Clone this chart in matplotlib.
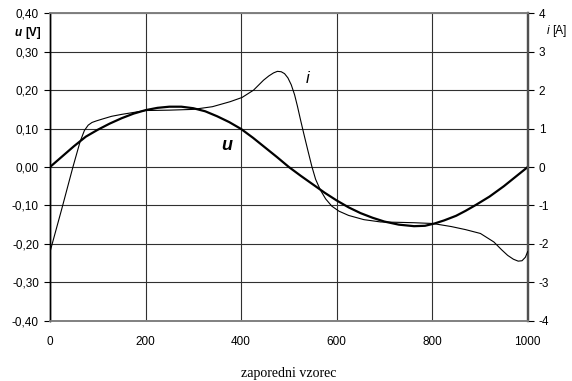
import numpy as np
import matplotlib.pyplot as plt
from matplotlib.ticker import FuncFormatter, MultipleLocator

plt.rcParams["font.family"] = ["Liberation Sans", "DejaVu Sans"]
plt.rcParams["axes.unicode_minus"] = False

# voltage u [V]
x_u = [0, 25, 50, 75, 100, 125, 150, 175, 200, 225, 250, 275, 300, 325, 350,
       375, 400, 425, 450, 475, 500, 525, 550, 575, 600, 625, 650, 675, 700,
       730, 762, 785, 805, 825, 850, 870, 891, 920, 950, 975, 1000]
u = [0, 0.027, 0.054, 0.079, 0.097, 0.113, 0.127, 0.139, 0.148, 0.154, 0.157,
     0.157, 0.153, 0.145, 0.132, 0.117, 0.099, 0.076, 0.051, 0.026, 0.0,
     -0.023, -0.045, -0.067, -0.087, -0.105, -0.120, -0.132, -0.142, -0.150,
     -0.154, -0.153, -0.147, -0.139, -0.127, -0.114, -0.099, -0.077, -0.050,
     -0.025, 0.0]

# current i [A]
x_i = [0, 24, 48, 63, 72, 80, 88, 97, 110, 129, 150, 200, 250, 300, 340, 377,
       402, 426, 447, 458, 468, 476, 484, 491, 498, 505, 512, 518, 524, 531,
       540, 548, 556, 566, 577, 590, 605, 625, 657, 692, 730, 762, 801, 840,
       870, 901, 929, 945, 958, 970, 980, 988, 995, 1000]
i = [-2.21, -1.12, 0.0, 0.66, 0.95, 1.09, 1.16, 1.2, 1.25, 1.32, 1.37, 1.47,
     1.48, 1.50, 1.57, 1.70, 1.81, 2.0, 2.26, 2.37, 2.45, 2.49, 2.48, 2.43,
     2.32, 2.14, 1.88, 1.58, 1.25, 0.88, 0.42, 0.02, -0.32, -0.6, -0.83,
     -1.02, -1.15, -1.26, -1.37, -1.43, -1.44, -1.45, -1.47, -1.55, -1.63,
     -1.73, -1.95, -2.15, -2.3, -2.4, -2.45, -2.44, -2.35, -2.2]

fig = plt.figure(figsize=(5.72, 3.81), dpi=100)
ax = fig.add_axes([0.0874, 0.1583, 0.8352, 0.8067])
ax2 = ax.twinx()

ax.plot(x_u, u, color="black", lw=1.6, zorder=4)
ax2.plot(x_i, i, color="black", lw=0.8, zorder=4)

ax.set_xlim(0, 1000)
ax.set_ylim(-0.4, 0.4)
ax2.set_ylim(-4, 4)
ax.xaxis.set_major_locator(MultipleLocator(200))
ax.yaxis.set_major_locator(MultipleLocator(0.1))
ax2.yaxis.set_major_locator(MultipleLocator(1))
ax.yaxis.set_major_formatter(FuncFormatter(lambda v, p: f"{v:.2f}".replace(".", ",")))
ax2.yaxis.set_major_formatter(FuncFormatter(lambda v, p: f"{v:.0f}"))

ax.grid(True, color="#303030", lw=0.8)
ax.tick_params(axis="x", length=0, pad=11, labelsize=8.5)
ax.tick_params(axis="y", length=4, width=0.8, pad=4, labelsize=8.5)
ax2.tick_params(axis="y", length=4, width=0.8, pad=4, labelsize=8.5)

for a in (ax, ax2):
    a.spines["top"].set_color("#808080")
    a.spines["bottom"].set_color("#808080")
    a.spines["left"].set_color("black")
    a.spines["right"].set_color("#505050")
    a.spines["top"].set_linewidth(1.2)
    a.spines["bottom"].set_linewidth(1.2)
    a.spines["left"].set_linewidth(1.0)
    a.spines["right"].set_linewidth(1.6)

fig.text(22 / 572, 1 - 33 / 381, "u", fontsize=8.5, fontweight="bold",
         fontstyle="italic", ha="right", va="center")
fig.text(25 / 572, 1 - 33 / 381, "[V]", fontsize=8.5, fontweight="bold",
         ha="left", va="center")
fig.text(549 / 572, 1 - 31 / 381, "i", fontsize=8.5, fontstyle="italic",
         ha="right", va="center")
fig.text(552 / 572, 1 - 31 / 381, "[A]", fontsize=8.5, ha="left", va="center")

ax.text(540, 0.23, "i", fontsize=12, fontstyle="italic", ha="center", va="center")
ax.text(370, 0.055, "u", fontsize=13, fontweight="bold", fontstyle="italic",
        ha="center", va="center")

fig.text(289 / 572, 1 - 373 / 381, "zaporedni vzorec", fontsize=10,
         family="Liberation Serif", ha="center", va="center")

fig.savefig("out.png", dpi=100)
